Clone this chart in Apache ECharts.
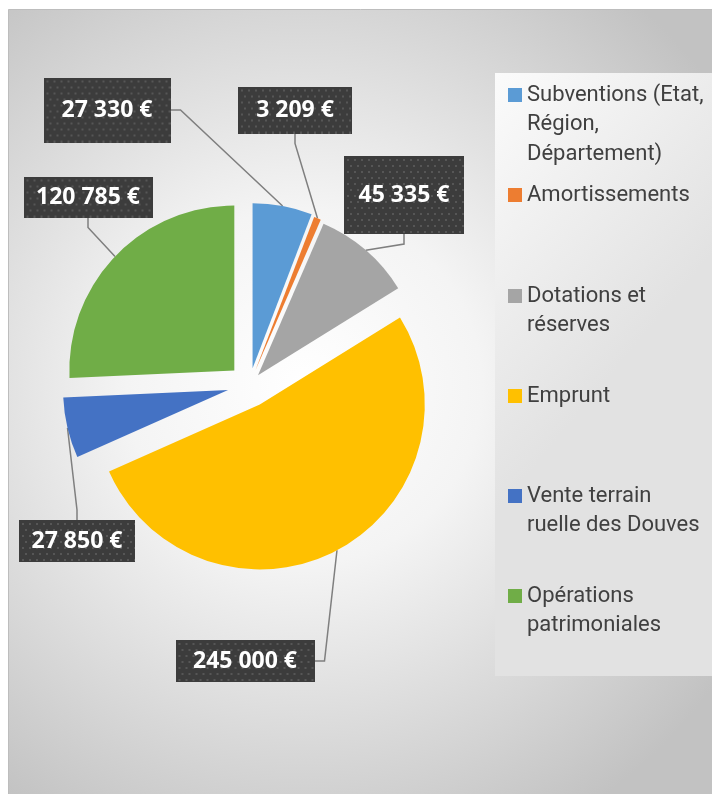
<!DOCTYPE html>
<html>
<head>
<meta charset="utf-8">
<script src="https://cdn.jsdelivr.net/npm/echarts@6/dist/echarts.min.js"></script>
<style>
    html, body { margin: 0; padding: 0; background: #ffffff; }
    #budgetPie { width: 712px; height: 794px; }
</style>
</head>
<body>
<div id="budgetPie"></div>
<script>
// recettes d'investissement
const categories = [
    "Subventions (Etat, Région, Département)",
    "Amortissements",
    "Dotations et réserves",
    "Emprunt",
    "Vente terrain ruelle des Douves",
    "Opérations patrimoniales",
]
const values = [27330, 3209, 45335, 245000, 27850, 120785]
const legendLines = [
    "Subventions (Etat,\nRégion,\nDépartement)",
    "Amortissements",
    "Dotations et\nréserves",
    "Emprunt",
    "Vente terrain\nruelle des Douves",
    "Opérations\npatrimoniales",
]
const colors = ["#5B9BD5", "#ED7D31", "#A5A5A5", "#FFC000", "#4472C4", "#70AD47"]

// layout
const pieCenter = [249.5, 385]
const pieRadius = 165
const explode = [17, 15, 13, 22, 22, 21]
// label boxes : centre x, centre y, width, height
const labelBoxes = [
    [107, 110, 127, 65],
    [295, 110, 114, 47],
    [404, 195, 120, 78],
    [245, 661, 139, 42],
    [77, 541, 116, 42],
    [88, 197, 129, 41],
]
const legendRows = [95, 195, 296, 396, 496, 596]
const legendLineHeight = 29.5

function numFormat(num) {
    return String(num).replace(/\B(?=(\d{3})+(?!\d))/g, " ")
}

// dark dotted background for the labels
function dotted(w, h) {
    let c = document.createElement("canvas")
    c.width = w
    c.height = h
    let ctx = c.getContext("2d")
    ctx.fillStyle = "#3c3c3c"
    ctx.fillRect(0, 0, w, h)
    ctx.fillStyle = "#565656"
    for (let y = 3; y < h; y += 6) {
        for (let x = (y % 12 === 3 ? 3 : 6); x < w; x += 7) {
            ctx.fillRect(x, y, 2, 2)
        }
    }
    return c
}

let myChart = echarts.init(document.getElementById("budgetPie"))

let total = values.reduce((a, b) => a + b, 0)

let legends = categories.map(function (name, i) {
    let n = legendLines[i].split("\n").length
    let lines = 2 * n - 1
    return {
        data: [{ name: name, itemStyle: { color: colors[i] } }],
        orient: "vertical",
        left: 508,
        top: legendRows[i] - (lines * legendLineHeight) / 2,
        padding: 0,
        icon: "rect",
        itemWidth: 14,
        itemHeight: 14,
        selectedMode: false,
        formatter: function () {
            return "\n".repeat(n - 1) + legendLines[i]
        },
        textStyle: {
            fontFamily: "Roboto",
            fontSize: 22,
            color: "#404040",
            lineHeight: legendLineHeight,
        },
    }
})

// one series per slice so that every slice is pulled out along its own bisector
let cum = 0
let series = categories.map(function (name, i) {
    let startAngle = 90 - (360 * cum) / total
    let mid = ((cum + values[i] / 2) / total) * 2 * Math.PI
    cum += values[i]
    let b = labelBoxes[i]
    return {
        name: name,
        type: "pie",
        center: [
            pieCenter[0] + Math.sin(mid) * explode[i],
            pieCenter[1] - Math.cos(mid) * explode[i],
        ],
        radius: pieRadius,
        startAngle: startAngle,
        clockwise: true,
        avoidLabelOverlap: false,
        emphasis: { disabled: true },
        label: {
            show: true,
            position: "outside",
            color: "#ffffff",
            fontFamily: "Open Sans",
            fontWeight: "bold",
            fontSize: 23,
            align: "center",
            width: b[2],
            lineHeight: b[3],
            backgroundColor: { image: dotted(b[2], b[3]) },
            shadowBlur: 6,
            shadowOffsetX: 3,
            shadowOffsetY: 3,
            shadowColor: "rgba(0,0,0,0.45)",
            formatter: function (p) {
                return numFormat(p.value) + " €"
            },
        },
        labelLine: {
            show: true,
            length: 10,
            length2: 10,
            lineStyle: { color: "#7f7f7f", width: 1.5 },
        },
        labelLayout: function () {
            return { x: b[0], y: b[1], align: "center", verticalAlign: "middle" }
        },
        data: [
            { name: name, value: values[i], itemStyle: { color: colors[i] } },
            {
                name: "",
                value: total - values[i],
                itemStyle: { color: "rgba(0,0,0,0)" },
                label: { show: false },
                labelLine: { show: false },
            },
        ],
    }
})

myChart.setOption({
    animation: false,
    color: colors,
    graphic: [
        {
            type: "rect",
            z: -10,
            silent: true,
            shape: { x: 8.5, y: 9.5, width: 704, height: 785 },
            style: {
                fill: {
                    type: "radial",
                    x: 0.42,
                    y: 0.48,
                    r: 0.72,
                    colorStops: [
                        { offset: 0, color: "#ffffff" },
                        { offset: 0.35, color: "#f4f4f4" },
                        { offset: 1, color: "#c2c2c2" },
                    ],
                },
                stroke: "#bdbdbd",
                lineWidth: 1,
            },
        },
        {
            type: "rect",
            z: -9,
            silent: true,
            shape: { x: 495, y: 73, width: 217, height: 603 },
            style: {
                fill: {
                    type: "linear",
                    x: 0,
                    y: 0,
                    x2: 1,
                    y2: 0.3,
                    colorStops: [
                        { offset: 0, color: "#fbfbfb" },
                        { offset: 1, color: "#e2e2e2" },
                    ],
                },
            },
        },
    ],
    legend: legends,
    series: series,
})
window.addEventListener("resize", function () {
    myChart.resize()
})
</script>
</body>
</html>
